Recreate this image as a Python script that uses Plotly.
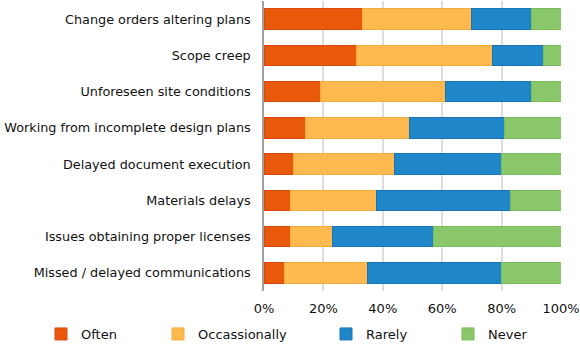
import plotly.graph_objects as go

categories = [
    "Change orders altering plans",
    "Scope creep",
    "Unforeseen site conditions",
    "Working from incomplete design plans",
    "Delayed document execution",
    "Materials delays",
    "Issues obtaining proper licenses",
    "Missed / delayed communications",
]
often = [33, 31, 19, 14, 10, 9, 9, 7]
occasionally = [37, 46, 42, 35, 34, 29, 14, 28]
rarely = [20, 17, 29, 32, 36, 45, 34, 45]
never = [10, 6, 10, 19, 20, 17, 43, 20]

x_ticks = [0, 20, 40, 60, 80, 100]
x_tick_labels = ["0%", "20%", "40%", "60%", "80%", "100%"]

series = [
    ("Often", often, "#E8590C", "#D9480F"),
    ("Occassionally", occasionally, "#FFBA4F", "#F5AC3C"),
    ("Rarely", rarely, "#1F87C8", "#1A73B8"),
    ("Never", never, "#89C76A", "#7BBB5C"),
]
legend_x = [41, 158, 326, 448]

fig = go.Figure()
for i, (name, vals, col, lcol) in enumerate(series):
    lg = "legend" if i == 0 else f"legend{i+1}"
    fig.add_trace(go.Bar(
        y=categories, x=vals, name=name, orientation="h",
        marker=dict(color=col, line=dict(color=lcol, width=1)),
        legend=lg,
    ))

fam = "DejaVu Sans, Verdana, sans-serif"
layout_legends = {}
for i, lx in enumerate(legend_x):
    key = "legend" if i == 0 else f"legend{i+1}"
    layout_legends[key] = dict(
        xref="container", yref="container", x=lx / 580, y=1 - 319 / 352,
        xanchor="left", yanchor="top", orientation="h",
        font=dict(family=fam, size=13, color="#111"),
        bgcolor="rgba(0,0,0,0)",
    )

fig.update_layout(
    barmode="stack",
    bargap=0.44,
    width=580, height=352,
    margin=dict(l=264, r=19, t=1, b=61),
    plot_bgcolor="white", paper_bgcolor="white",
    font=dict(family=fam, size=13, color="#111"),
    showlegend=True,
    **layout_legends,
)
fig.update_xaxes(
    range=[0, 100], tickvals=x_ticks, ticktext=x_tick_labels,
    showgrid=True, gridcolor="#DDDDDD", gridwidth=1.5,
    zeroline=False, showline=False, ticks="", ticklabelstandoff=8,
    tickfont=dict(family=fam, size=13, color="#111"),
    fixedrange=True, automargin=False,
)
fig.update_yaxes(
    categoryorder="array", categoryarray=categories, autorange="reversed",
    showline=True, linecolor="#A0A0A0", linewidth=1.5,
    showgrid=False, ticks="", ticklabelstandoff=9,
    tickfont=dict(family=fam, size=12.8, color="#111"),
    automargin=False,
)

fig.write_html("out.html")
